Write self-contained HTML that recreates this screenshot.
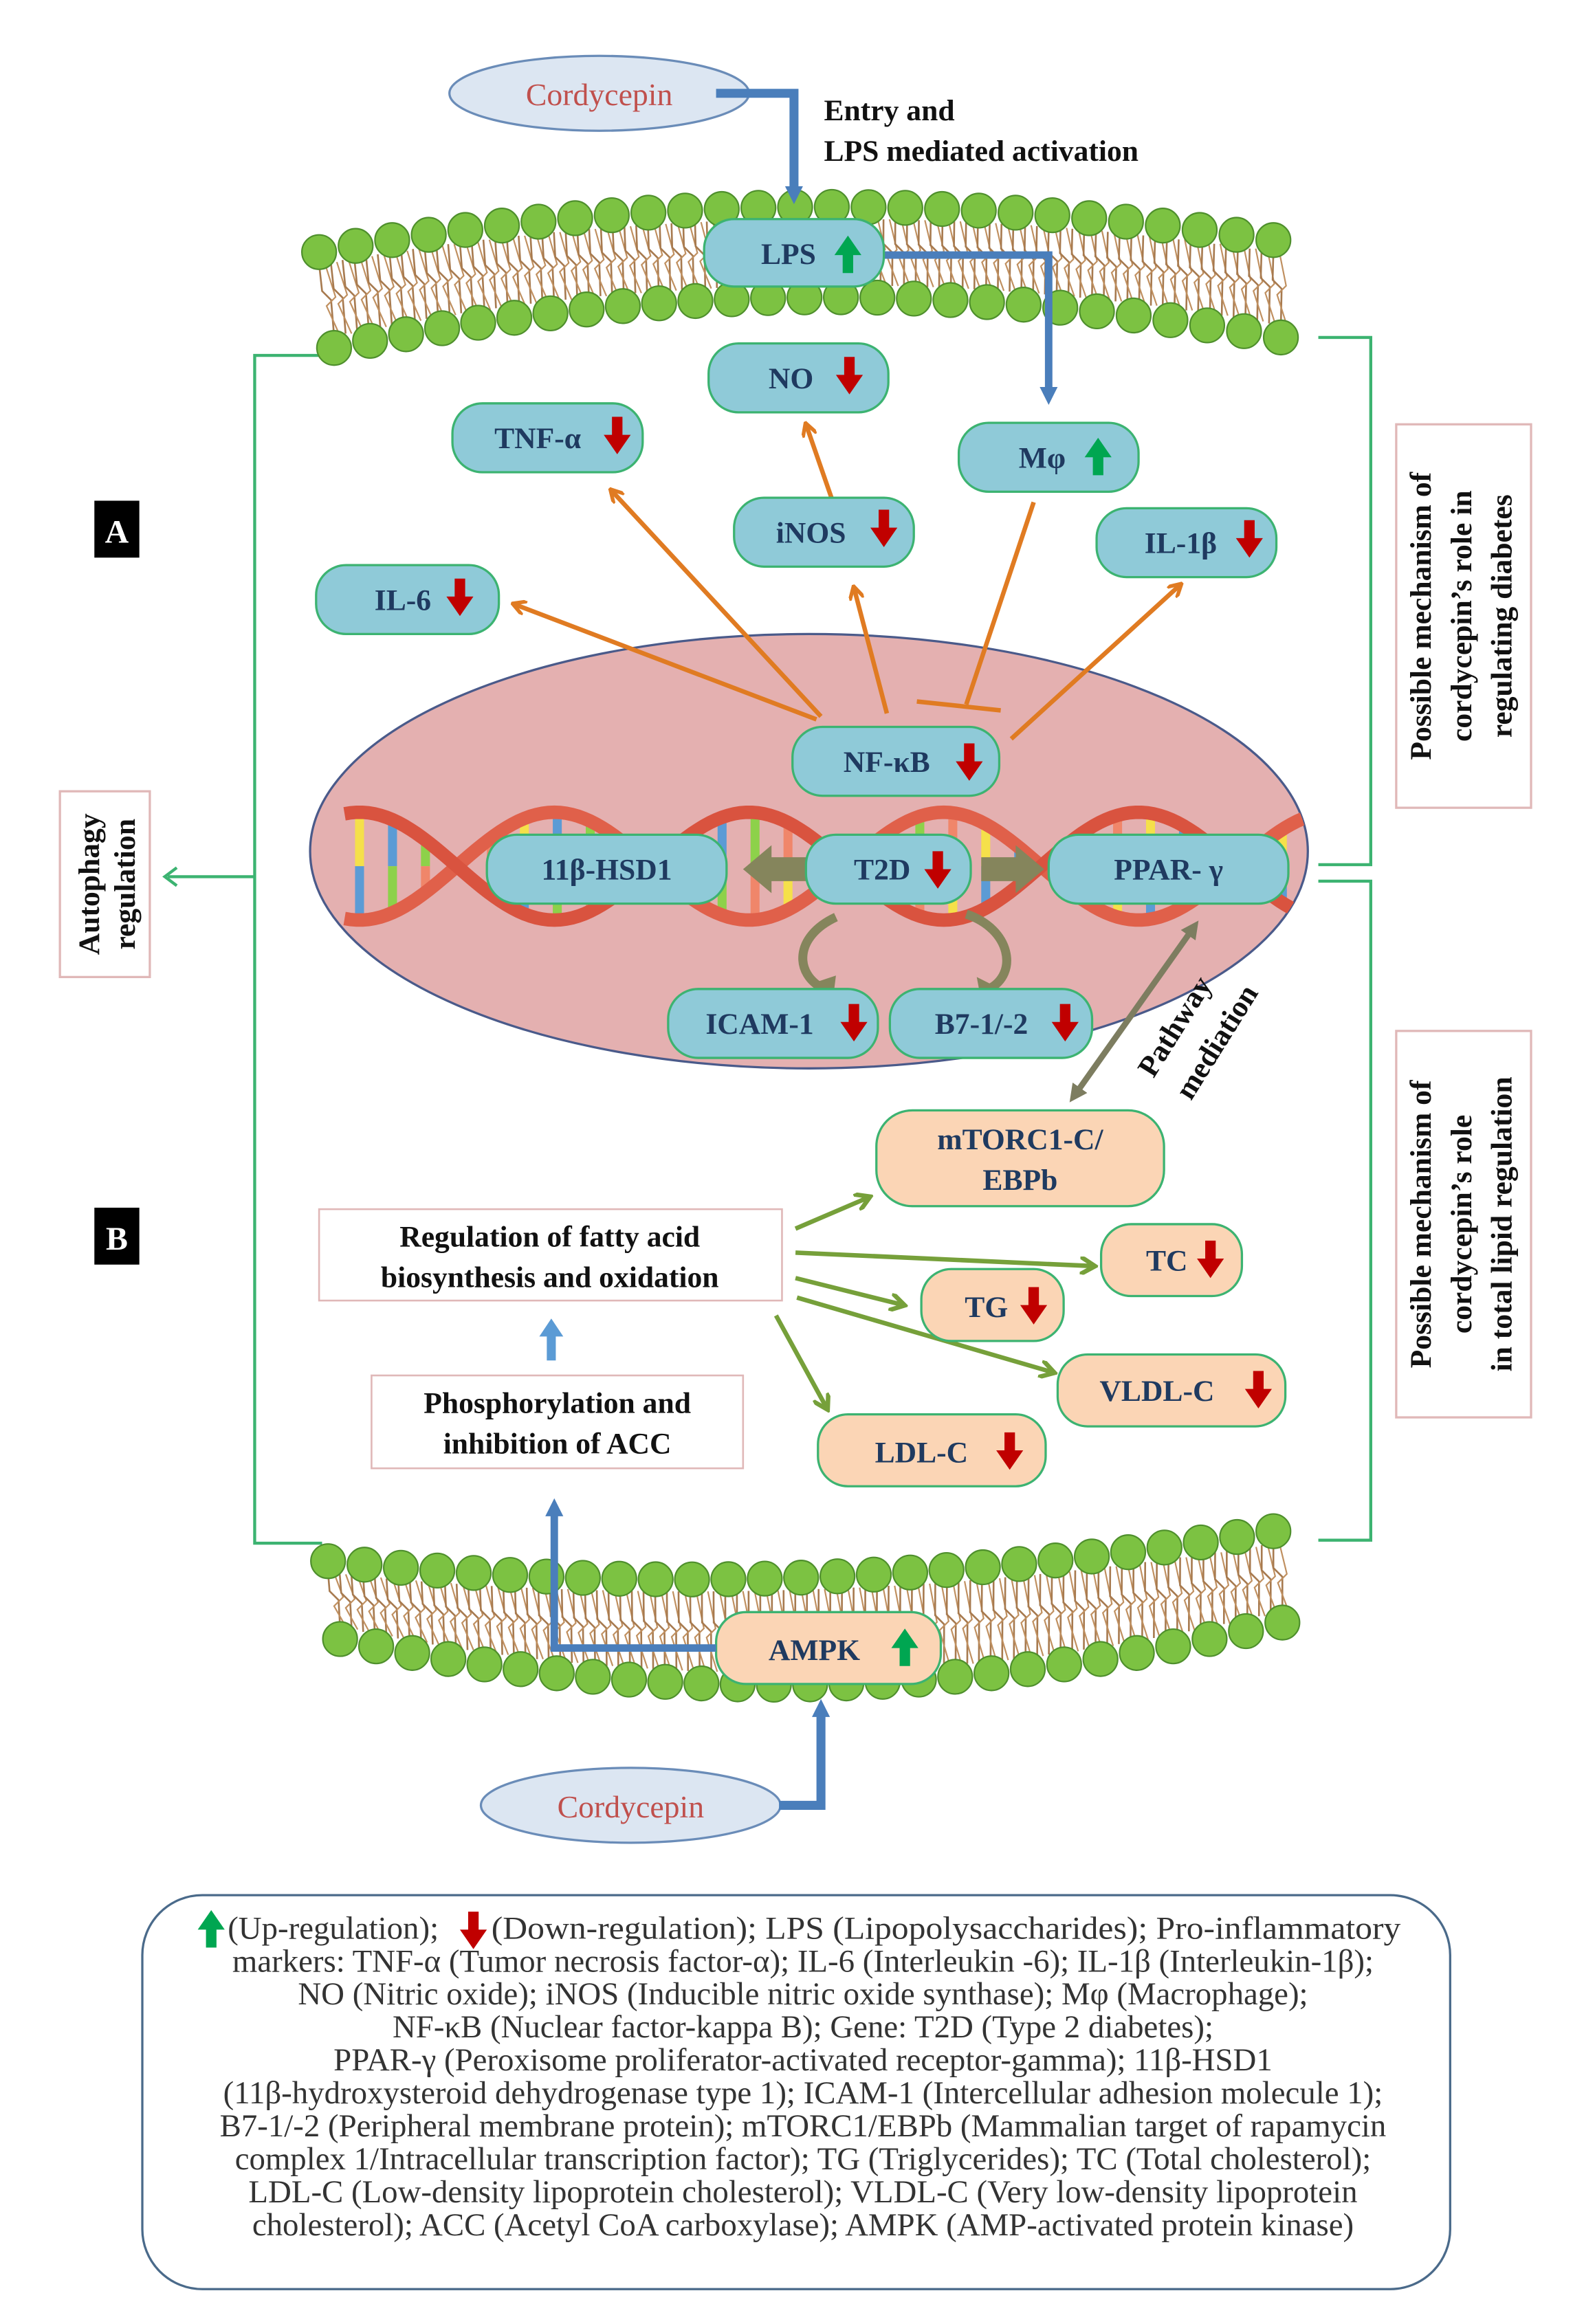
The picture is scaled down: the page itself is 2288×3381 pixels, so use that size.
<!DOCTYPE html>
<html><head><meta charset="utf-8">
<style>
html,body{margin:0;padding:0;background:#fff;}
svg{display:block;}
text{font-family:"Liberation Serif",serif;}
.n{fill:#1f3a60;font-weight:bold;font-size:20px;}
.b{fill:#111;font-weight:bold;font-size:20px;}
.lg{fill:#333;font-size:21.5px;}
</style></head>
<body>
<svg id="s" width="2288" height="3381" viewBox="0 0 1050 1551" xmlns="http://www.w3.org/2000/svg">
<defs>
<path id="dn" d="M-3.5,-12 h7 v12 h5.5 l-9,13 l-9,-13 h5.5z" fill="#c00000"/>
<path id="up" d="M-3.5,12 h7 v-12 h5.5 l-9,-13 l-9,13 h5.5z" fill="#00a651"/>
<marker id="ao" markerWidth="10" markerHeight="10" refX="8" refY="5" orient="auto" markerUnits="userSpaceOnUse"><path d="M0,0 L9,5 L0,10" fill="none" stroke="#e07b22" stroke-width="2.5"/></marker>
<marker id="ag" markerWidth="12" markerHeight="12" refX="9" refY="6" orient="auto" markerUnits="userSpaceOnUse"><path d="M0,0 L10,6 L0,12" fill="none" stroke="#76a03a" stroke-width="3"/></marker>
<marker id="ab" markerWidth="16" markerHeight="16" refX="4" refY="8" orient="auto" markerUnits="userSpaceOnUse"><path d="M0,2 L12,8 L0,14z" fill="#4a7ebb"/></marker>
<marker id="ap" markerWidth="14" markerHeight="14" refX="5" refY="7" orient="auto-start-reverse" markerUnits="userSpaceOnUse"><path d="M0,1 L12,7 L0,13z" fill="#7d7d60"/></marker>
<clipPath id="ec"><ellipse cx="540" cy="568" rx="333" ry="145"/></clipPath>
</defs>

<g stroke="#3cb371" stroke-width="2" fill="none">
<path d="M215,237 H170 V1030 H215"/>
<path d="M170,585 H112"/>
<path d="M118,579 L110,585 L118,591"/>
<path d="M880,225 H915 V577 H880"/>
<path d="M880,588 H915 V1028 H880"/>
</g>

<g id="mem"></g>

<ellipse cx="540" cy="568" rx="333" ry="145" fill="#e4b0b0" stroke="#4a5a8a" stroke-width="1.5"/>
<g id="dna" clip-path="url(#ec)"></g>

<ellipse cx="400" cy="62" rx="100" ry="25" fill="#dce6f2" stroke="#6a8cb8" stroke-width="1.5"/>
<text x="400" y="70" text-anchor="middle" font-size="21" fill="#c0504d">Cordycepin</text>
<path d="M478,62 H530 V128" fill="none" stroke="#4a7ebb" stroke-width="6" marker-end="url(#ab)"/>
<text class="b" x="550" y="80">Entry and</text>
<text class="b" x="550" y="107">LPS mediated activation</text>

<g stroke="#e07b22" stroke-width="3" fill="none">
<line x1="545" y1="480" x2="343" y2="403" marker-end="url(#ao)"/>
<line x1="548" y1="478" x2="408" y2="327" marker-end="url(#ao)"/>
<line x1="592" y1="476" x2="570" y2="392" marker-end="url(#ao)"/>
<line x1="555" y1="332" x2="538" y2="283" marker-end="url(#ao)"/>
<line x1="690" y1="335" x2="645" y2="470"/>
<line x1="612" y1="468" x2="668" y2="474"/>
<line x1="675" y1="493" x2="788" y2="390" marker-end="url(#ao)"/>
</g>

<path d="M590,170 H700 V262" fill="none" stroke="#4a7ebb" stroke-width="5" marker-end="url(#ab)"/>

<path d="M538,572 H515 V564 L496,580 L515,596 V588 H538z" fill="#85855c"/>
<path d="M655,572 H678 V564 L697,580 L678,596 V588 H655z" fill="#85855c"/>
<path d="M558,612 C530,625 530,650 550,660" fill="none" stroke="#85855c" stroke-width="6"/>
<path d="M543,656 L556,667 L558,651z" fill="#85855c"/>
<path d="M645,610 C675,620 680,650 660,660" fill="none" stroke="#85855c" stroke-width="6"/>
<path d="M652,652 L655,668 L668,660z" fill="#85855c"/>
<line x1="796" y1="620" x2="718" y2="730" stroke="#7d7d60" stroke-width="4" marker-start="url(#ap)" marker-end="url(#ap)"/>
<text class="b" font-size="19" transform="translate(770,720) rotate(-58)">Pathway</text>
<text class="b" font-size="19" transform="translate(795,735) rotate(-58)">mediation</text>

<g stroke="#3cb371" stroke-width="1.5" fill="#8fcad8">
<rect x="470" y="146" width="120" height="45" rx="20"/>
<rect x="473" y="229" width="120" height="46" rx="20"/>
<rect x="302" y="269" width="127" height="46" rx="20"/>
<rect x="640" y="282" width="120" height="46" rx="20"/>
<rect x="490" y="332" width="120" height="46" rx="20"/>
<rect x="732" y="339" width="120" height="46" rx="20"/>
<rect x="211" y="377" width="122" height="46" rx="20"/>
<rect x="529" y="485" width="138" height="46" rx="20"/>
<rect x="325" y="557" width="160" height="46" rx="20"/>
<rect x="538" y="557" width="110" height="46" rx="20"/>
<rect x="700" y="557" width="160" height="46" rx="20"/>
<rect x="446" y="660" width="140" height="46" rx="20"/>
<rect x="594" y="660" width="135" height="46" rx="20"/>
</g>
<g class="n">
<text x="508" y="176">LPS</text><use href="#up" x="566" y="170"/>
<text x="513" y="259">NO</text><use href="#dn" x="567" y="250"/>
<text x="330" y="299">TNF-α</text><use href="#dn" x="412" y="290"/>
<text x="680" y="312">Mφ</text><use href="#up" x="733" y="305"/>
<text x="518" y="362">iNOS</text><use href="#dn" x="590" y="352"/>
<text x="764" y="369">IL-1β</text><use href="#dn" x="834" y="359"/>
<text x="250" y="407">IL-6</text><use href="#dn" x="307" y="398"/>
<text x="563" y="515">NF-κB</text><use href="#dn" x="647" y="508"/>
<text x="405" y="587" text-anchor="middle">11β-HSD1</text>
<text x="570" y="587">T2D</text><use href="#dn" x="626" y="580"/>
<text x="780" y="587" text-anchor="middle">PPAR- γ</text>
<text x="471" y="690">ICAM-1</text><use href="#dn" x="570" y="682"/>
<text x="624" y="690">B7-1/-2</text><use href="#dn" x="711" y="682"/>
</g>

<rect x="63" y="334" width="30" height="38" fill="#000"/>
<text x="78" y="362" text-anchor="middle" fill="#fff" font-weight="bold" font-size="22">A</text>
<rect x="63" y="806" width="30" height="38" fill="#000"/>
<text x="78" y="834" text-anchor="middle" fill="#fff" font-weight="bold" font-size="22">B</text>

<rect x="40" y="528" width="60" height="124" fill="#fff" stroke="#e0b8b8" stroke-width="1.5"/>
<g class="b" font-size="20" text-anchor="middle">
<text transform="translate(66,590) rotate(-90)">Autophagy</text>
<text transform="translate(90,590) rotate(-90)">regulation</text>
</g>
<rect x="932" y="283" width="90" height="256" fill="#fff" stroke="#e0b8b8" stroke-width="1.5"/>
<g class="b" font-size="19" text-anchor="middle">
<text transform="translate(955,411) rotate(-90)">Possible mechanism of</text>
<text transform="translate(982,411) rotate(-90)">cordycepin’s role in</text>
<text transform="translate(1009,411) rotate(-90)">regulating diabetes</text>
</g>
<rect x="932" y="688" width="90" height="258" fill="#fff" stroke="#e0b8b8" stroke-width="1.5"/>
<g class="b" font-size="19" text-anchor="middle">
<text transform="translate(955,817) rotate(-90)">Possible mechanism of</text>
<text transform="translate(982,817) rotate(-90)">cordycepin’s role</text>
<text transform="translate(1009,817) rotate(-90)">in total lipid regulation</text>
</g>

<rect x="213" y="807" width="309" height="61" fill="#fff" stroke="#e0b8b8" stroke-width="1.2"/>
<text class="b" x="367" y="832" text-anchor="middle">Regulation of fatty acid</text>
<text class="b" x="367" y="859" text-anchor="middle">biosynthesis and oxidation</text>
<rect x="248" y="918" width="248" height="62" fill="#fff" stroke="#e0b8b8" stroke-width="1.2"/>
<text class="b" x="372" y="943" text-anchor="middle">Phosphorylation and</text>
<text class="b" x="372" y="970" text-anchor="middle">inhibition of ACC</text>
<path d="M365,908 V892 H360 L368,880 L376,892 H371 V908z" fill="#5b9bd5"/>

<g stroke="#76a03a" stroke-width="3" fill="none">
<line x1="531" y1="820" x2="580" y2="799" marker-end="url(#ag)"/>
<line x1="531" y1="836" x2="730" y2="845" marker-end="url(#ag)"/>
<line x1="531" y1="853" x2="603" y2="871" marker-end="url(#ag)"/>
<line x1="532" y1="866" x2="703" y2="916" marker-end="url(#ag)"/>
<line x1="518" y1="878" x2="552" y2="940" marker-end="url(#ag)"/>
</g>

<g stroke="#3cb371" stroke-width="1.5" fill="#fbd5b5">
<rect x="585" y="741" width="192" height="64" rx="24"/>
<rect x="735" y="817" width="94" height="48" rx="20"/>
<rect x="615" y="847" width="95" height="48" rx="20"/>
<rect x="706" y="904" width="152" height="48" rx="20"/>
<rect x="546" y="944" width="152" height="48" rx="20"/>
<rect x="478" y="1076" width="150" height="48" rx="20"/>
</g>
<g class="n">
<text x="681" y="767" text-anchor="middle">mTORC1-C/</text>
<text x="681" y="794" text-anchor="middle">EBPb</text>
<text x="765" y="848">TC</text><use href="#dn" x="808" y="840"/>
<text x="644" y="879">TG</text><use href="#dn" x="690" y="871"/>
<text x="734" y="935">VLDL-C</text><use href="#dn" x="840" y="927"/>
<text x="584" y="976">LDL-C</text><use href="#dn" x="674" y="968"/>
<text x="513" y="1108">AMPK</text><use href="#up" x="604" y="1100"/>
</g>
<path d="M478,1100 H370 V1008" fill="none" stroke="#4a7ebb" stroke-width="5" marker-end="url(#ab)"/>

<ellipse cx="421" cy="1205" rx="100" ry="25" fill="#dce6f2" stroke="#6a8cb8" stroke-width="1.5"/>
<text x="421" y="1213" text-anchor="middle" font-size="21" fill="#c0504d">Cordycepin</text>
<path d="M520,1205 H548 V1142" fill="none" stroke="#4a7ebb" stroke-width="6" marker-end="url(#ab)"/>

<rect x="95" y="1265" width="873" height="263" rx="40" fill="#fff" stroke="#4a6a8a" stroke-width="1.5"/>
<use href="#up" x="141" y="1288"/><use href="#dn" x="316" y="1288"/>
<g class="lg" text-anchor="middle">
<text x="152" y="1294" text-anchor="start">(Up-regulation);</text>
<text x="328" y="1294" text-anchor="start" textLength="607" lengthAdjust="spacingAndGlyphs">(Down-regulation); LPS (Lipopolysaccharides); Pro-inflammatory</text>
<text x="536" y="1316">markers: TNF-α (Tumor necrosis factor-α); IL-6 (Interleukin -6); IL-1β (Interleukin-1β);</text>
<text x="536" y="1338">NO (Nitric oxide); iNOS (Inducible nitric oxide synthase); Mφ (Macrophage);</text>
<text x="536" y="1360">NF-κB (Nuclear factor-kappa B); Gene: T2D (Type 2 diabetes);</text>
<text x="536" y="1382">PPAR-γ (Peroxisome proliferator-activated receptor-gamma); 11β-HSD1</text>
<text x="536" y="1404">(11β-hydroxysteroid dehydrogenase type 1); ICAM-1 (Intercellular adhesion molecule 1);</text>
<text x="536" y="1426">B7-1/-2 (Peripheral membrane protein); mTORC1/EBPb (Mammalian target of rapamycin</text>
<text x="536" y="1448">complex 1/Intracellular transcription factor); TG (Triglycerides); TC (Total cholesterol);</text>
<text x="536" y="1470">LDL-C (Low-density lipoprotein cholesterol); VLDL-C (Very low-density lipoprotein</text>
<text x="536" y="1492">cholesterol); ACC (Acetyl CoA carboxylase); AMPK (AMP-activated protein kinase)</text>
</g>
</svg>
<script>
(function(){
var NS="http://www.w3.org/2000/svg";
function el(p,n,a){var e=document.createElementNS(NS,n);for(var k in a)e.setAttribute(k,a[k]);p.appendChild(e);return e;}
function q(p0,c,p2,t){var u=1-t;return [u*u*p0[0]+2*u*t*c[0]+t*t*p2[0],u*u*p0[1]+2*u*t*c[1]+t*t*p2[1]];}
var mem=document.getElementById('mem');
function membrane(top,bot,n){
  for(var i=0;i<=n*3;i++){var t=i/(n*3);var a=q(top[0],top[1],top[2],t),b=q(bot[0],bot[1],bot[2],t);
    var mx=(a[0]+b[0])/2,my=(a[1]+b[1])/2;
    el(mem,'path',{d:'M'+a[0]+','+(a[1]+8)+' L'+(mx-3)+','+(my-6)+' L'+(mx+3)+','+(my)+' L'+b[0]+','+(b[1]-8),fill:'none',stroke:'#a77a4f','stroke-width':1.2});
    el(mem,'path',{d:'M'+(a[0]+4)+','+(a[1]+8)+' L'+(mx+6)+','+(my-2)+' L'+(mx)+','+(my+4)+' L'+(b[0]+4)+','+(b[1]-8),fill:'none',stroke:'#c09060','stroke-width':1});
  }
  [top,bot].forEach(function(r){for(var i=0;i<n;i++){var p=q(r[0],r[1],r[2],i/(n-1));
    el(mem,'circle',{cx:p[0],cy:p[1],r:11.5,fill:'#7cc242',stroke:'#4e8f2c','stroke-width':1});}});
}
membrane([[213,168],[530,112],[850,160]],[[223,232],[535,168],[855,225]],27);
membrane([[219,1042],[535,1074],[850,1022]],[[227,1094],[540,1160],[856,1083]],27);
var dna=document.getElementById('dna');
var cols=['#f5e04a','#5b9bd5','#8dd14a','#f0866a'];
var k=0;
for(var x=240;x<=870;x+=22){
  var y1=578+36*Math.sin((x-240)/130*Math.PI+Math.PI/2), y2=578-36*Math.sin((x-240)/130*Math.PI+Math.PI/2);
  if(Math.abs(y1-y2)>14){var lo=Math.min(y1,y2),hi=Math.max(y1,y2),m=(lo+hi)/2;
  el(dna,'line',{x1:x,y1:lo,x2:x,y2:m,stroke:cols[k%4],'stroke-width':6});
  el(dna,'line',{x1:x,y1:m,x2:x,y2:hi,stroke:cols[(k+1)%4],'stroke-width':6});k++;}
}
function strand(ph,col){var d='';for(var x=230;x<=880;x+=4){var y=578+36*Math.sin((x-240)/130*Math.PI+ph);d+=(d?'L':'M')+x+','+y;}
  el(dna,'path',{d:d,fill:'none',stroke:col,'stroke-width':9});}
strand(Math.PI/2,'#e0604a');strand(-Math.PI/2,'#d9533f');
})();
</script>
</body></html>
